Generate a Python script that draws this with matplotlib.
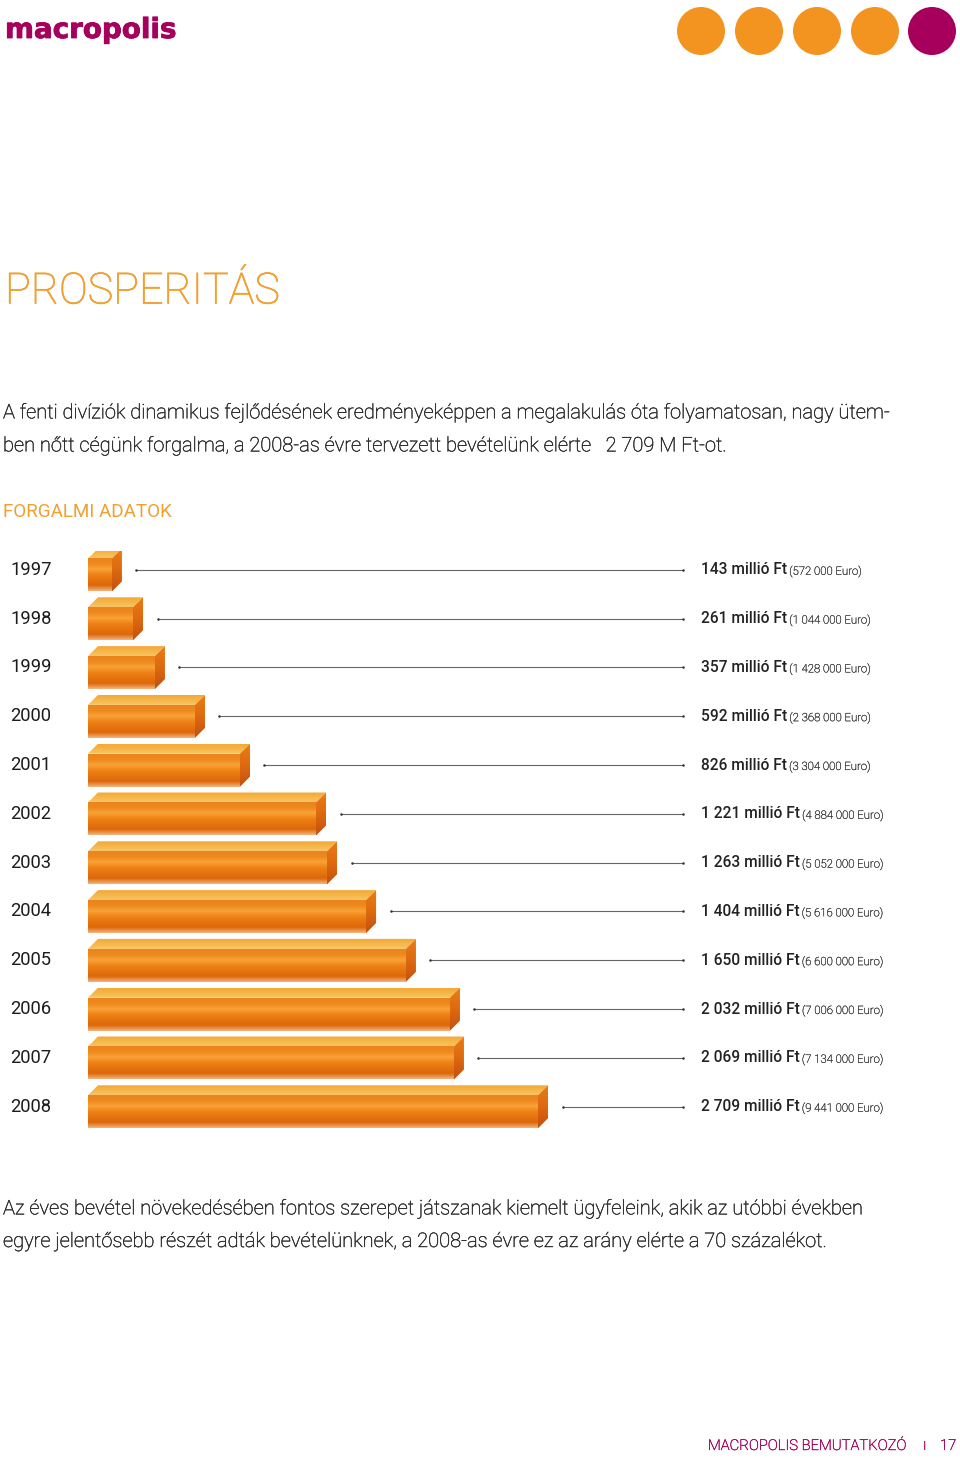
import matplotlib
matplotlib.use('Agg')
import matplotlib.pyplot as plt
import matplotlib.patheffects as pe
from matplotlib.patches import Circle, Polygon
import numpy as np

plt.rcParams['font.family'] = ['Roboto', 'DejaVu Sans']

# data
years = ['1997', '1998', '1999', '2000', '2001', '2002', '2003', '2004', '2005', '2006', '2007', '2008']
huf_labels = ['143', '261', '357', '592', '826', '1 221', '1 263', '1 404', '1 650', '2 032', '2 069', '2 709']
eur_labels = ['572 000', '1 044 000', '1 428 000', '2 368 000', '3 304 000', '4 884 000',
              '5 052 000', '5 616 000', '6 600 000', '7 006 000', '7 134 000', '9 441 000']
# bar lengths as drawn in the picture (not quite the printed figures)
drawn = [144, 271, 403, 644, 915, 1373, 1439, 1674, 1914, 2179, 2203, 2709]

ORANGE = '#f39420'
PURPLE = '#a6005c'
TEXT = '#2a2a2a'


def thicken(color, w=0.3):
    # Roboto Light is a bit thinner than the page's font
    return [pe.withStroke(linewidth=w, foreground=color)]


fig = plt.figure(figsize=(9.6, 14.58), dpi=100)

# page axes in pixels, for the text around the chart
page = fig.add_axes([0, 0, 1, 1])
page.set_xlim(0, 960)
page.set_ylim(1458, 0)
page.axis('off')

for cx, col in zip([701, 759, 817, 875, 932], [ORANGE, ORANGE, ORANGE, ORANGE, PURPLE]):
    page.add_patch(Circle((cx, 31), 24, color=col, lw=0))

page.text(5, 30, 'macropolis', color=PURPLE, fontsize=20, family=['DejaVu Sans'], weight='bold',
          va='center', ha='left', path_effects=thicken(PURPLE, 0.6))
page.text(5, 292, 'PROSPERITÁS', color='#f0a030', fontsize=31, weight='light', va='center',
          path_effects=thicken('#f0a030', 0.5))
page.text(3, 412.5, 'A fenti divíziók dinamikus fejlődésének eredményeképpen a megalakulás óta folyamatosan, nagy ütem-',
          color=TEXT, fontsize=14.45, weight='light', va='center', path_effects=thicken(TEXT))
page.text(3, 445.5, 'ben nőtt cégünk forgalma, a 2008-as évre tervezett bevételünk elérte   2 709 M Ft-ot.',
          color=TEXT, fontsize=14.45, weight='light', va='center', path_effects=thicken(TEXT))
page.text(3, 511.5, 'FORGALMI ADATOK', color='#f0a030', fontsize=13.6, va='center')
page.text(3, 1208.5, 'Az éves bevétel növekedésében fontos szerepet játszanak kiemelt ügyfeleink, akik az utóbbi években',
          color=TEXT, fontsize=14.45, weight='light', va='center', path_effects=thicken(TEXT))
page.text(3, 1241.5, 'egyre jelentősebb részét adták bevételünknek, a 2008-as évre ez az arány elérte a 70 százalékot.',
          color=TEXT, fontsize=14.45, weight='light', va='center', path_effects=thicken(TEXT))
page.text(708, 1446, 'MACROPOLIS BEMUTATKOZÓ', color=PURPLE, fontsize=10.7, weight='light', va='center',
          path_effects=thicken(PURPLE))
page.text(923, 1446, 'I', color=PURPLE, fontsize=9, va='center')
page.text(940, 1446, '17', color=PURPLE, fontsize=10.7, weight='light', va='center', path_effects=thicken(PURPLE))

# chart axes: x in million Ft, y in rows; a little wider than the longest bar so its side fits
row_px = 48.8
top = 575 - row_px / 2
extra_px = 12
ax = fig.add_axes([88 / 960, 1 - (top + 12 * row_px) / 1458, (450 + extra_px) / 960, 12 * row_px / 1458])
ax.patch.set_alpha(0)
ax.axis('off')

px = drawn[-1] / 450  # value units per pixel
py = 1 / row_px
half = 16.5 * py
dx, dy = 10 * px, 10 * py

front_cm = matplotlib.colors.LinearSegmentedColormap.from_list(
    'front', ['#ea8420', '#ee8a1c', '#f8a238', '#ef8216', '#e5740e', '#dc680a', '#f4b27a'])
top_cm = matplotlib.colors.LinearSegmentedColormap.from_list('top', ['#f4a838', '#f6b648', '#f8c468'])
side_cm = matplotlib.colors.LinearSegmentedColormap.from_list('side', ['#ea7c16', '#dd6a10', '#c4500e'])
grad = np.linspace(0, 1, 64).reshape(-1, 1)

for i, v in enumerate(drawn):
    y0, y1 = i - half, i + half
    ax.imshow(grad, cmap=front_cm, extent=(0, v, y1, y0), aspect='auto', zorder=2)
    im = ax.imshow(grad, cmap=top_cm, extent=(0, v + dx, y0, y0 - dy), aspect='auto', zorder=2)
    im.set_clip_path(Polygon([(0, y0), (dx, y0 - dy), (v + dx, y0 - dy), (v, y0)], transform=ax.transData))
    im = ax.imshow(grad, cmap=side_cm, extent=(v, v + dx, y1, y0 - dy), aspect='auto', zorder=2)
    im.set_clip_path(Polygon([(v, y0), (v + dx, y0 - dy), (v + dx, y1 - dy), (v, y1)], transform=ax.transData))

    # leader line from just past the bar to the label column
    ly = i - 5.2 * py
    x0 = v + 24.5 * px
    x1 = 595 * px
    ax.plot([x0, x1], [ly, ly], color='#666666', lw=0.8, clip_on=False, zorder=1)
    ax.plot([x0, x1], [ly, ly], ls='none', marker='o', ms=1.8, color='#333333', mew=0, clip_on=False, zorder=1)

    ax.text(-78 * px, ly, years[i], color='#1c1c1c', fontsize=13.2, va='center', ha='left', clip_on=False)
    t = ax.text(613 * px, ly, huf_labels[i] + ' millió Ft', color='#222222', fontsize=11.2,
                weight='medium', va='center', ha='left', clip_on=False)
    ax.annotate('(' + eur_labels[i] + ' Euro)', xy=(1, 0), xycoords=t, xytext=(1.5, 0),
                textcoords='offset points', color='#333333', fontsize=8.2, weight='light', va='bottom', ha='left',
                path_effects=thicken('#333333', 0.2))

ax.set_xlim(0, drawn[-1] + extra_px * px)
ax.set_ylim(11.5, -0.5)

fig.savefig('out.png', dpi=100)
